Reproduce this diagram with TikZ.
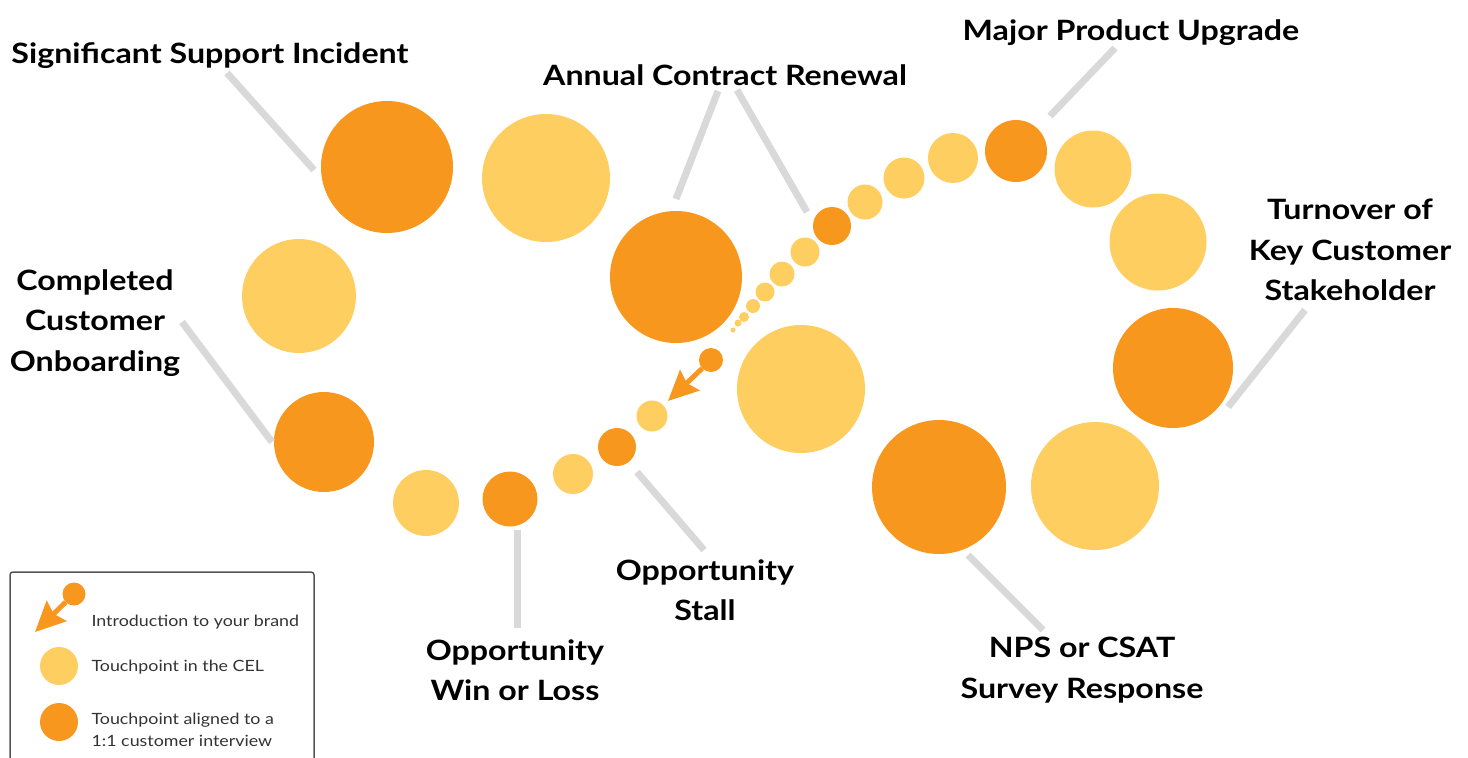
\documentclass[tikz,border=0pt]{standalone}
\usepackage{fontspec}
\setmainfont{Lato}[FakeStretch=1.15]
\usetikzlibrary{arrows.meta}
\definecolor{touchColor}{RGB}{255,206,96}
\definecolor{interviewColor}{RGB}{247,151,30}
\definecolor{leaderColor}{RGB}{217,217,217}
\definecolor{legendColor}{RGB}{85,85,85}
\tikzset{touchpoint/.style={circle, fill=touchColor, inner sep=0pt, outer sep=0pt}}
\tikzset{interview/.style={touchpoint, fill=interviewColor}}
\tikzset{event/.style={align=center, font=\bfseries\fontsize{28}{40.5}\selectfont}}
\tikzset{leader/.style={draw=leaderColor, line width=7pt}}
\tikzset{intro/.style={draw=interviewColor, line width=5pt, -{Stealth[length=30pt, width=28pt, inset=4pt]}}}
\tikzset{legendtext/.style={anchor=west, align=left, text=black!80, font=\fontsize{15.5}{22}\selectfont}}

\begin{document}
\begin{tikzpicture}[x=1pt, y=-1pt]
\useasboundingbox (0,0) rectangle (1468,758);

% Nodes
\node (SupportDot) [interview, minimum size=132pt] at (387,167) {};
\node (TouchA) [touchpoint, minimum size=128pt] at (546,178) {};
\node (TouchB) [touchpoint, minimum size=114pt] at (299,296) {};
\node (OnboardingDot) [interview, minimum size=100pt] at (324,442) {};
\node (TouchC) [touchpoint, minimum size=66pt] at (426,503) {};
\node (WinLossDot) [interview, minimum size=55pt] at (510,499) {};
\node (TouchD) [touchpoint, minimum size=40pt] at (573,474) {};
\node (StallDot) [interview, minimum size=38pt] at (617,447) {};
\node (TouchE) [touchpoint, minimum size=31pt] at (652,416) {};
\node (IntroDot) [interview, minimum size=24pt] at (711,360) {};
\coordinate (IntroTip) at (668,401);

\node (RenewalDot) [interview, minimum size=132pt] at (676,277) {};
\node (TouchF) [touchpoint, minimum size=128pt] at (801,389) {};

\node (TailA) [touchpoint, minimum size=5pt] at (733,330) {};
\node (TailB) [touchpoint, minimum size=7pt] at (738,323) {};
\node (TailC) [touchpoint, minimum size=10pt] at (744,317) {};
\node (TailD) [touchpoint, minimum size=14pt] at (753,306) {};
\node (TailE) [touchpoint, minimum size=19pt] at (765,292) {};
\node (TailF) [touchpoint, minimum size=25pt] at (782,274) {};
\node (TailG) [touchpoint, minimum size=29pt] at (805,252) {};
\node (RenewalSmallDot) [interview, minimum size=38pt] at (832,226) {};
\node (TouchG) [touchpoint, minimum size=35pt] at (865,202) {};
\node (TouchH) [touchpoint, minimum size=41pt] at (904,178) {};
\node (TouchI) [touchpoint, minimum size=50pt] at (953,158) {};
\node (UpgradeDot) [interview, minimum size=62pt] at (1016,151) {};
\node (TouchJ) [touchpoint, minimum size=77pt] at (1093,169) {};
\node (TouchK) [touchpoint, minimum size=97pt] at (1158,242) {};
\node (TurnoverDot) [interview, minimum size=120pt] at (1173,368) {};
\node (TouchL) [touchpoint, minimum size=128pt] at (1095,486) {};
\node (SurveyDot) [interview, minimum size=134pt] at (939,487) {};

% Labels
\node (SupportLabel) [event] at (210,56) {Significant Support Incident};
\node (RenewalLabel) [event] at (725,75) {Annual Contract Renewal};
\node (UpgradeLabel) [event] at (1131,33) {Major Product Upgrade};
\node (TurnoverLabel) [event] at (1350,250) {Turnover of\\Key Customer\\Stakeholder};
\node (OnboardingLabel) [event] at (95,323) {Completed\\Customer\\Onboarding};
\node (WinLossLabel) [event] at (515,670) {Opportunity\\Win or Loss};
\node (StallLabel) [event] at (705,590) {Opportunity\\Stall};
\node (SurveyLabel) [event] at (1082,670) {NPS or CSAT\\Survey Response};

% Leader ends
\coordinate (SupportA) at (227,73);   \coordinate (SupportB) at (314,170);
\coordinate (RenewalA) at (718,91);   \coordinate (RenewalB) at (676,199);
\coordinate (RenewalC) at (737,90);   \coordinate (RenewalD) at (807,212);
\coordinate (UpgradeA) at (1115,48);  \coordinate (UpgradeB) at (1050,116);
\coordinate (TurnoverA) at (1305,310); \coordinate (TurnoverB) at (1228,407);
\coordinate (OnboardingA) at (182,322); \coordinate (OnboardingB) at (272,442);
\coordinate (WinLossA) at (517,530);  \coordinate (WinLossB) at (517,628);
\coordinate (StallA) at (637,472);    \coordinate (StallB) at (704,550);
\coordinate (SurveyA) at (968,555);   \coordinate (SurveyB) at (1043,630);

% Connectors
\draw [leader] (SupportA) -- (SupportB);
\draw [leader] (RenewalA) -- (RenewalB);
\draw [leader] (RenewalC) -- (RenewalD);
\draw [leader] (UpgradeA) -- (UpgradeB);
\draw [leader] (TurnoverA) -- (TurnoverB);
\draw [leader] (OnboardingA) -- (OnboardingB);
\draw [leader] (WinLossA) -- (WinLossB);
\draw [leader] (StallA) -- (StallB);
\draw [leader] (SurveyA) -- (SurveyB);

\draw [intro] (IntroDot) -- (IntroTip);

% Legend
\draw [legendColor, line width=1.5pt, rounded corners=3pt] (10,572) rectangle (314,775);
\node (LegendIntroDot) [interview, minimum size=23pt] at (74,594) {};
\coordinate (LegendIntroTip) at (35,632);
\draw [intro] (LegendIntroDot) -- (LegendIntroTip);
\node (LegendTouch) [touchpoint, minimum size=38pt] at (59,666) {};
\node (LegendInterview) [interview, minimum size=38pt] at (59,722) {};
\node (LegendIntroText) [legendtext] at (88,622) {Introduction to your brand};
\node (LegendTouchText) [legendtext] at (88,667) {Touchpoint in the CEL};
\node (LegendInterviewText) [legendtext] at (88,730) {Touchpoint aligned to a\\1:1 customer interview};
\end{tikzpicture}
\end{document}
